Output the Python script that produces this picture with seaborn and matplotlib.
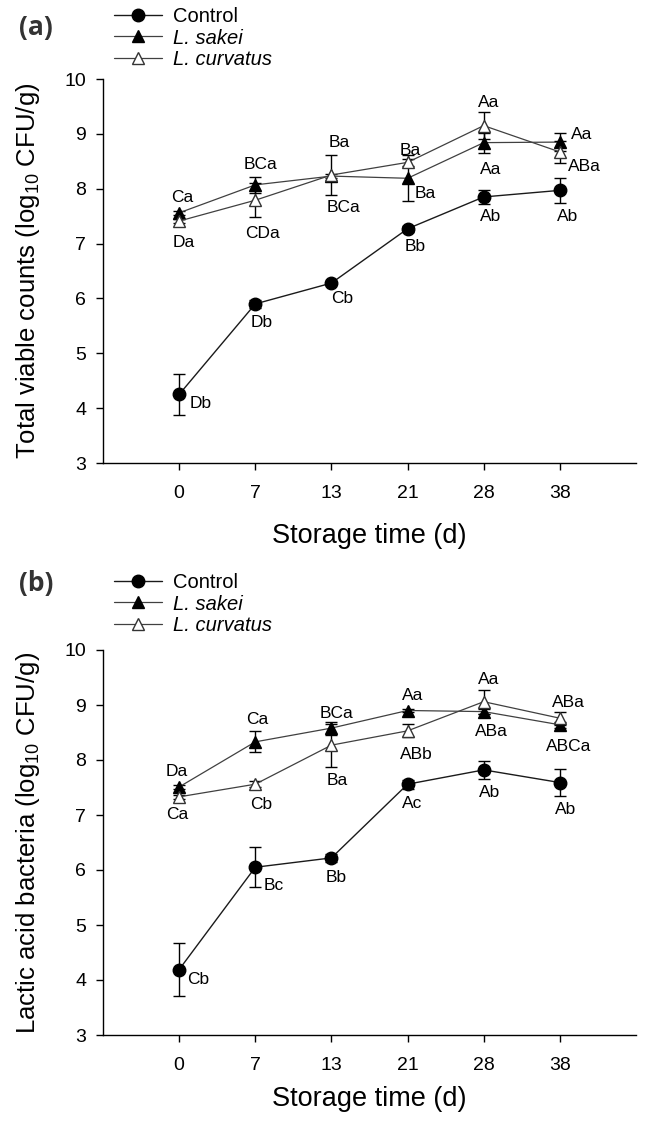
import numpy as np
import pandas as pd
import matplotlib
matplotlib.use("Agg")
import matplotlib.pyplot as plt
import seaborn as sns

# ---------------- data ----------------
days = ["0", "7", "13", "21", "28", "38"]
series_names = ["Control", "L. sakei", "L. curvatus"]

# (a) Total viable counts
tvc_control = [4.25, 5.90, 6.28, 7.27, 7.85, 7.97]
tvc_control_err = [0.38, 0.08, 0.03, 0.05, 0.13, 0.23]
tvc_sakei = [7.56, 8.07, 8.23, 8.19, 8.84, 8.85]
tvc_sakei_err = [0.04, 0.15, 0.04, 0.42, 0.18, 0.16]
tvc_curvatus = [7.41, 7.79, 8.25, 8.48, 9.15, 8.67]
tvc_curvatus_err = [0.04, 0.31, 0.36, 0.07, 0.24, 0.20]
tvc_control_lab = ["Db", "Db", "Cb", "Bb", "Ab", "Ab"]
tvc_sakei_lab = ["Ca", "BCa", "Ba", "Ba", "Aa", "Aa"]
tvc_curvatus_lab = ["Da", "CDa", "BCa", "Ba", "Aa", "ABa"]

# (b) Lactic acid bacteria
lab_control = [4.19, 6.05, 6.22, 7.56, 7.82, 7.59]
lab_control_err = [0.48, 0.36, 0.07, 0.08, 0.17, 0.24]
lab_sakei = [7.51, 8.33, 8.58, 8.90, 8.88, 8.64]
lab_sakei_err = [0.04, 0.19, 0.12, 0.03, 0.05, 0.06]
lab_curvatus = [7.33, 7.56, 8.27, 8.53, 9.06, 8.76]
lab_curvatus_err = [0.04, 0.05, 0.39, 0.12, 0.22, 0.12]
lab_control_lab = ["Cb", "Bc", "Bb", "Ac", "Ab", "Ab"]
lab_sakei_lab = ["Da", "Ca", "BCa", "Aa", "ABa", "ABCa"]
lab_curvatus_lab = ["Ca", "Cb", "Ba", "ABb", "Aa", "ABa"]

# ---------------- layout (label offsets in pixels) ----------------
off_a = [
    [(22, -9), (6, -19), (11, -15), (8, -18), (7, -20), (8, -26)],
    [(3, 15), (5, 20), (8, 34), (18, -15), (7, -27), (22, 8)],
    [(5, -21), (7, -33), (12, -32), (3, 12), (5, 23), (25, -15)],
]
off_b = [
    [(19, -10), (18, -18), (5, -20), (5, -19), (6, -23), (6, -27)],
    [(-2, 15), (2, 22), (5, 15), (5, 15), (8, -20), (9, -22)],
    [(-2, -18), (6, -20), (6, -35), (9, -24), (5, 22), (9, 16)],
]

sns.set_style("ticks")
plt.rcParams["font.family"] = ["Liberation Sans", "DejaVu Sans"]
plt.rcParams["mathtext.default"] = "regular"

W, H = 645, 1121
fig = plt.figure(figsize=(W / 100, H / 100), dpi=100)

left, right = 103, 636
ax_a = fig.add_axes([left / W, 1 - 463 / H, (right - left) / W, 384 / H])
ax_b = fig.add_axes([left / W, 1 - 1035 / H, (right - left) / W, 385 / H])

styles = [
    dict(marker="o", markersize=9, markerfacecolor="black", markeredgecolor="black",
         color="#1a1a1a", linewidth=1.0),
    dict(marker="^", markersize=8.5, markerfacecolor="black", markeredgecolor="black",
         color="#404040", linewidth=0.9),
    dict(marker="^", markersize=8.5, markerfacecolor="white", markeredgecolor="#333333",
         color="#404040", linewidth=0.9),
]


def draw(ax, vals, errs, labs, offs, ylabel, xlab_y, legend_y):
    idx = np.arange(len(days))
    rows = []
    for name, v in zip(series_names, vals):
        for i, d in enumerate(days):
            rows.append({"series": name, "pos": i, "day": d, "value": v[i]})
    df = pd.DataFrame(rows)
    for k, (name, e, st) in enumerate(zip(series_names, errs, styles)):
        sub = df[df.series == name]
        ax.errorbar(sub["pos"], sub["value"], yerr=e, fmt="none", ecolor="black",
                    elinewidth=1, capsize=4.5, capthick=1, zorder=2 + k)
        sns.lineplot(data=sub, x="pos", y="value", ax=ax, label=name,
                     markeredgewidth=1, zorder=2.5 + k, **st)
        for i, (val, t) in enumerate(zip(vals[k], labs[k])):
            ax.annotate(t, (i, val), xytext=offs[k][i], textcoords="offset pixels",
                        ha="center", va="center", fontsize=12.5, color="black", zorder=10)

    ax.set_xlim(-1, 6)
    ax.set_ylim(3, 10)
    ax.set_xticks(idx)
    ax.set_xticklabels(days)
    ax.set_yticks(range(3, 11))
    sns.despine(ax=ax)
    for s in ["left", "bottom"]:
        ax.spines[s].set_color("black")
        ax.spines[s].set_linewidth(1.0)
    ax.tick_params(axis="both", direction="out", length=5, width=1, colors="black",
                   labelsize=14)
    ax.tick_params(axis="x", pad=11)
    ax.tick_params(axis="y", pad=7)
    ax.set_xlabel("Storage time (d)", fontsize=19.5, va="center", color="black")
    ax.xaxis.set_label_coords(0.5, xlab_y)
    ax.set_ylabel(ylabel, fontsize=18.5, va="center", color="black")
    ax.yaxis.set_label_coords(-0.14, 0.5)

    handles, labels = ax.get_legend_handles_labels()
    leg = ax.legend(handles, labels, loc="center left",
                    bbox_to_anchor=(114 / W, legend_y), bbox_transform=fig.transFigure,
                    frameon=False, fontsize=14.5, handlelength=2.4, handletextpad=0.55,
                    labelspacing=0.12, borderpad=0, borderaxespad=0, numpoints=1)
    for t in leg.get_texts():
        t.set_color("black")
    for t in leg.get_texts()[1:]:
        t.set_fontstyle("italic")


draw(ax_a, [tvc_control, tvc_sakei, tvc_curvatus],
     [tvc_control_err, tvc_sakei_err, tvc_curvatus_err],
     [tvc_control_lab, tvc_sakei_lab, tvc_curvatus_lab], off_a,
     "Total viable counts (log$_{10}$ CFU/g)", -0.19, 1 - 38 / H)
draw(ax_b, [lab_control, lab_sakei, lab_curvatus],
     [lab_control_err, lab_sakei_err, lab_curvatus_err],
     [lab_control_lab, lab_sakei_lab, lab_curvatus_lab], off_b,
     "Lactic acid bacteria (log$_{10}$ CFU/g)", -0.165, 1 - 604 / H)

fig.text(36 / W, 1 - 27 / H, "(a)", ha="center", va="center", fontsize=19,
         fontweight="bold", family=["Open Sans", "DejaVu Sans"], color="#333333")
fig.text(36 / W, 1 - 583 / H, "(b)", ha="center", va="center", fontsize=19,
         fontweight="bold", family=["Open Sans", "DejaVu Sans"], color="#333333")

fig.savefig("out.png", dpi=100)
